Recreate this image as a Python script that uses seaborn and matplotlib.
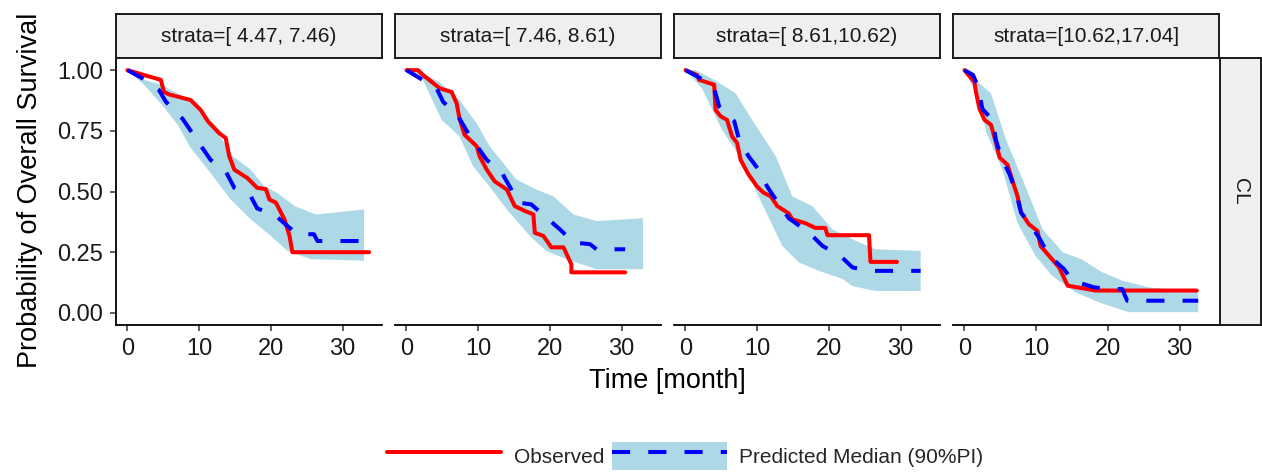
import numpy as np
import pandas as pd
import matplotlib
matplotlib.use("Agg")
import matplotlib.pyplot as plt
import seaborn as sns
from matplotlib.lines import Line2D
from matplotlib.patches import Patch
from matplotlib.legend_handler import HandlerTuple

# ---------------- data ----------------
strata_labels = ["strata=[ 4.47, 7.46)", "strata=[ 7.46, 8.61)",
                 "strata=[ 8.61,10.62)", "strata=[10.62,17.04]"]
row_label = "CL"
x_ticks = [0, 10, 20, 30]
y_ticks = [0.00, 0.25, 0.50, 0.75, 1.00]

# Panel 1
obs_t1 = [0, 2.3, 4.65, 5.1, 5.8, 8.8, 10.2, 11.2, 12.8, 13.7, 14.2, 14.9, 16.7, 18.1, 19.3, 19.8, 20.7, 21.9, 22.6, 23.0, 33.7]
obs_s1 = [1.0, 0.98, 0.96, 0.91, 0.90, 0.877, 0.836, 0.79, 0.74, 0.72, 0.645, 0.59, 0.556, 0.515, 0.51, 0.467, 0.454, 0.385, 0.317, 0.25, 0.25]
pred_t1 = [0, 2.1, 4.4, 5.35, 7.67, 8.6, 10.2, 11.6, 13.7, 14.9, 17.2, 18.1, 20.5, 22.3, 23.7, 26.0, 26.5, 33.0]
pred_s1 = [1.0, 0.966, 0.918, 0.87, 0.80, 0.76, 0.69, 0.63, 0.583, 0.515, 0.48, 0.43, 0.405, 0.358, 0.324, 0.324, 0.296, 0.296]
up_t1 = [0, 2.3, 4.65, 7.2, 9.1, 10.5, 12.1, 13.3, 14.7, 17.2, 19.1, 20.9, 23.3, 26.3, 33.0]
up_s1 = [1.0, 0.96, 0.94, 0.90, 0.86, 0.81, 0.754, 0.71, 0.645, 0.59, 0.52, 0.494, 0.44, 0.405, 0.426]
lo_t1 = [0, 2.3, 4.65, 7.0, 8.8, 11.6, 14.4, 17.2, 20.0, 22.3, 25.6, 33.0]
lo_s1 = [1.0, 0.94, 0.863, 0.775, 0.68, 0.576, 0.467, 0.385, 0.317, 0.255, 0.221, 0.215]

# Panel 2
obs_t2 = [0, 1.6, 2.3, 4.65, 6.3, 7.0, 7.4, 8.1, 9.8, 10.2, 11.2, 12.3, 14.0, 15.1, 16.5, 17.7, 17.9, 19.1, 20.2, 21.9, 23.0, 23.0, 30.5]
obs_s2 = [1.0, 1.0, 0.98, 0.925, 0.91, 0.863, 0.80, 0.734, 0.686, 0.645, 0.59, 0.542, 0.508, 0.44, 0.42, 0.406, 0.33, 0.317, 0.27, 0.27, 0.20, 0.167, 0.167]
pred_t2 = [0, 1.9, 4.2, 5.1, 7.2, 8.4, 10.0, 11.2, 13.3, 14.4, 15.6, 17.4, 19.5, 21.4, 23.3, 25.6, 26.5, 30.5]
pred_s2 = [1.0, 0.966, 0.925, 0.87, 0.81, 0.75, 0.68, 0.63, 0.577, 0.52, 0.454, 0.447, 0.393, 0.344, 0.29, 0.283, 0.262, 0.262]
up_t2 = [0, 2.3, 4.65, 7.4, 9.8, 11.6, 13.5, 15.3, 18.1, 20.5, 23.3, 26.5, 33.0]
up_s2 = [1.0, 0.986, 0.95, 0.877, 0.78, 0.686, 0.617, 0.55, 0.508, 0.48, 0.405, 0.378, 0.39]
lo_t2 = [0, 2.3, 4.9, 7.4, 9.3, 11.6, 14.0, 17.2, 19.5, 22.3, 26.5, 33.0]
lo_s2 = [1.0, 0.96, 0.795, 0.727, 0.604, 0.52, 0.426, 0.317, 0.255, 0.221, 0.18, 0.18]

# Panel 3
obs_t3 = [0, 1.6, 1.9, 4.0, 4.2, 4.9, 5.8, 6.5, 7.2, 7.7, 8.8, 10.0, 10.9, 11.9, 12.8, 14.4, 14.9, 16.7, 18.1, 19.5, 19.8, 25.6, 25.8, 29.5]
obs_s3 = [1.0, 0.98, 0.96, 0.94, 0.836, 0.81, 0.795, 0.727, 0.70, 0.63, 0.57, 0.52, 0.495, 0.48, 0.44, 0.41, 0.385, 0.37, 0.35, 0.35, 0.32, 0.32, 0.21, 0.21]
pred_t3 = [0, 1.9, 4.0, 4.7, 6.8, 7.5, 8.8, 10.2, 11.4, 12.6, 14.4, 15.6, 17.7, 19.1, 21.6, 23.3, 25.8, 32.8]
pred_s3 = [1.0, 0.97, 0.925, 0.85, 0.79, 0.71, 0.645, 0.59, 0.52, 0.467, 0.39, 0.365, 0.317, 0.276, 0.235, 0.187, 0.173, 0.173]
up_t3 = [0, 1.4, 4.0, 7.0, 9.3, 12.6, 14.9, 17.7, 20.5, 23.8, 26.5, 32.8]
up_s3 = [1.0, 1.0, 0.96, 0.904, 0.795, 0.645, 0.48, 0.44, 0.344, 0.296, 0.262, 0.255]
lo_t3 = [0, 2.3, 5.1, 7.9, 10.2, 13.5, 15.8, 18.6, 21.9, 23.3, 26.5, 32.8]
lo_s3 = [1.0, 0.925, 0.754, 0.63, 0.48, 0.276, 0.208, 0.173, 0.14, 0.11, 0.09, 0.09]

# Panel 4
obs_t4 = [0, 1.4, 1.6, 2.1, 2.8, 3.7, 4.4, 4.9, 6.0, 6.5, 7.4, 7.9, 9.0, 10.2, 10.6, 11.8, 13.2, 14.4, 18.3, 32.4]
obs_s4 = [1.0, 0.95, 0.91, 0.84, 0.795, 0.775, 0.70, 0.64, 0.61, 0.563, 0.48, 0.413, 0.365, 0.337, 0.276, 0.235, 0.187, 0.112, 0.092, 0.092]
pred_t4 = [0, 1.2, 1.9, 2.5, 3.9, 4.4, 5.1, 6.3, 7.2, 7.9, 9.3, 10.4, 11.8, 13.9, 15.0, 18.1, 20.1, 22.0, 22.7, 32.6]
pred_s4 = [1.0, 0.98, 0.93, 0.84, 0.795, 0.71, 0.645, 0.57, 0.495, 0.413, 0.358, 0.31, 0.235, 0.18, 0.133, 0.105, 0.098, 0.098, 0.05, 0.05]
up_t4 = [0, 1.6, 3.7, 5.8, 8.1, 10.9, 13.7, 16.4, 19.2, 22.0, 25.7, 32.6]
up_s4 = [1.0, 0.96, 0.904, 0.713, 0.55, 0.344, 0.25, 0.22, 0.167, 0.133, 0.105, 0.085]
lo_t4 = [0, 2.1, 3.0, 5.3, 7.4, 9.9, 12.2, 15.5, 18.7, 22.9, 32.6]
lo_s4 = [1.0, 0.877, 0.747, 0.59, 0.37, 0.235, 0.153, 0.085, 0.044, 0.003, 0.003]

panels = [
    (obs_t1, obs_s1, pred_t1, pred_s1, up_t1, up_s1, lo_t1, lo_s1),
    (obs_t2, obs_s2, pred_t2, pred_s2, up_t2, up_s2, lo_t2, lo_s2),
    (obs_t3, obs_s3, pred_t3, pred_s3, up_t3, up_s3, lo_t3, lo_s3),
    (obs_t4, obs_s4, pred_t4, pred_s4, up_t4, up_s4, lo_t4, lo_s4),
]

# ---------------- style ----------------
sns.set_theme(style="white")
plt.rcParams["font.family"] = ["Liberation Sans", "DejaVu Sans"]

RED = "#FF0000"
BLUE = "#0000FF"
BAND = "#ADD8E6"
LW = 2.9
DASH = (0, (4.5, 4.5))

W, H = 1262, 473
fig = plt.figure(figsize=(W / 100, H / 100), dpi=100)

lefts = [116, 395, 674, 953]
pw = 266
top, bottom = 58, 325
strip_top = 14

def fx(px):
    return px / W

def fy(py):
    return 1 - py / H

for i, (left, lab, data) in enumerate(zip(lefts, strata_labels, panels)):
    ot, os_, pt, ps, ut, us, lt, ls = data
    ax = fig.add_axes([fx(left), fy(bottom), fx(pw), (bottom - top) / H])
    bx = np.concatenate([np.array(ut), np.array(lt)[::-1]])
    by = np.concatenate([np.array(us), np.array(ls)[::-1]])
    ax.fill(bx, by, color=BAND, lw=0, zorder=1)
    df_obs = pd.DataFrame({"time": ot, "surv": os_})
    df_pred = pd.DataFrame({"time": pt, "surv": ps})
    sns.lineplot(data=df_obs, x="time", y="surv", ax=ax, color=RED, lw=LW,
                 estimator=None, sort=False, zorder=3)
    sns.lineplot(data=df_pred, x="time", y="surv", ax=ax, color=BLUE, lw=LW,
                 estimator=None, sort=False, linestyle=DASH, zorder=4)
    ax.set_xlim(-1.6, 35.5)
    ax.set_ylim(-0.05, 1.05)
    ax.set_xticks(x_ticks)
    ax.set_xticklabels([str(v) for v in x_ticks])
    ax.set_xlabel("")
    ax.set_ylabel("")
    for s in ["top", "right"]:
        ax.spines[s].set_visible(False)
    ax.spines["bottom"].set_color("black")
    ax.spines["bottom"].set_linewidth(1.3)
    ax.tick_params(axis="x", length=4.5, width=1.1, color="#333333", pad=5,
                   labelsize=17, labelcolor="#1a1a1a", bottom=True)
    if i == 0:
        ax.set_yticks(y_ticks)
        ax.set_yticklabels([f"{v:.2f}" for v in y_ticks])
        ax.spines["left"].set_color("black")
        ax.spines["left"].set_linewidth(1.3)
        ax.tick_params(axis="y", length=4.5, width=1.1, color="#333333", pad=5,
                       labelsize=17, labelcolor="#1a1a1a", left=True)
    else:
        ax.spines["left"].set_visible(False)
        ax.set_yticks(y_ticks)
        ax.tick_params(axis="y", left=False, labelleft=False)
    ax.grid(False)

    # top strip
    sax = fig.add_axes([fx(left), fy(top), fx(pw), (top - strip_top) / H])
    sax.set_xticks([]); sax.set_yticks([])
    sax.set_facecolor("#EFEFEF")
    for s in sax.spines.values():
        s.set_visible(True); s.set_color("#1a1a1a"); s.set_linewidth(1.4)
    sax.text(0.5, 0.5, lab, ha="center", va="center", fontsize=15,
             color="#1a1a1a", transform=sax.transAxes)

# right strip
rax = fig.add_axes([fx(1220), fy(bottom), fx(41), (bottom - top) / H])
rax.set_xticks([]); rax.set_yticks([])
rax.set_facecolor("#EFEFEF")
for s in rax.spines.values():
    s.set_visible(True); s.set_color("#1a1a1a"); s.set_linewidth(1.4)
rax.text(0.5, 0.5, row_label, ha="center", va="center", rotation=270,
         fontsize=15, color="#1a1a1a", transform=rax.transAxes)

# axis titles
fig.text(fx(667), fy(381), "Time [month]", ha="center", va="center", fontsize=19.5,
         color="black")
fig.text(fx(30), fy(190), "Probability of Overall Survival", ha="center", va="center",
         rotation=90, fontsize=19.5, color="black")

# legend
h_obs = Line2D([], [], color=RED, lw=LW)
h_pred = (Patch(facecolor=BAND, edgecolor="none"),
          Line2D([], [], color=BLUE, lw=LW, linestyle=DASH))
fig.legend([h_obs, h_pred], ["Observed", "Predicted Median (90%PI)"],
           handler_map={tuple: HandlerTuple(ndivide=1, pad=0)},
           loc="center", bbox_to_anchor=(fx(685), fy(456)), ncol=2, frameon=False,
           fontsize=15, handlelength=5.5, handleheight=1.75, handletextpad=0.6,
           columnspacing=0.4, borderpad=0, borderaxespad=0)

fig.savefig("out.png", dpi=100)
